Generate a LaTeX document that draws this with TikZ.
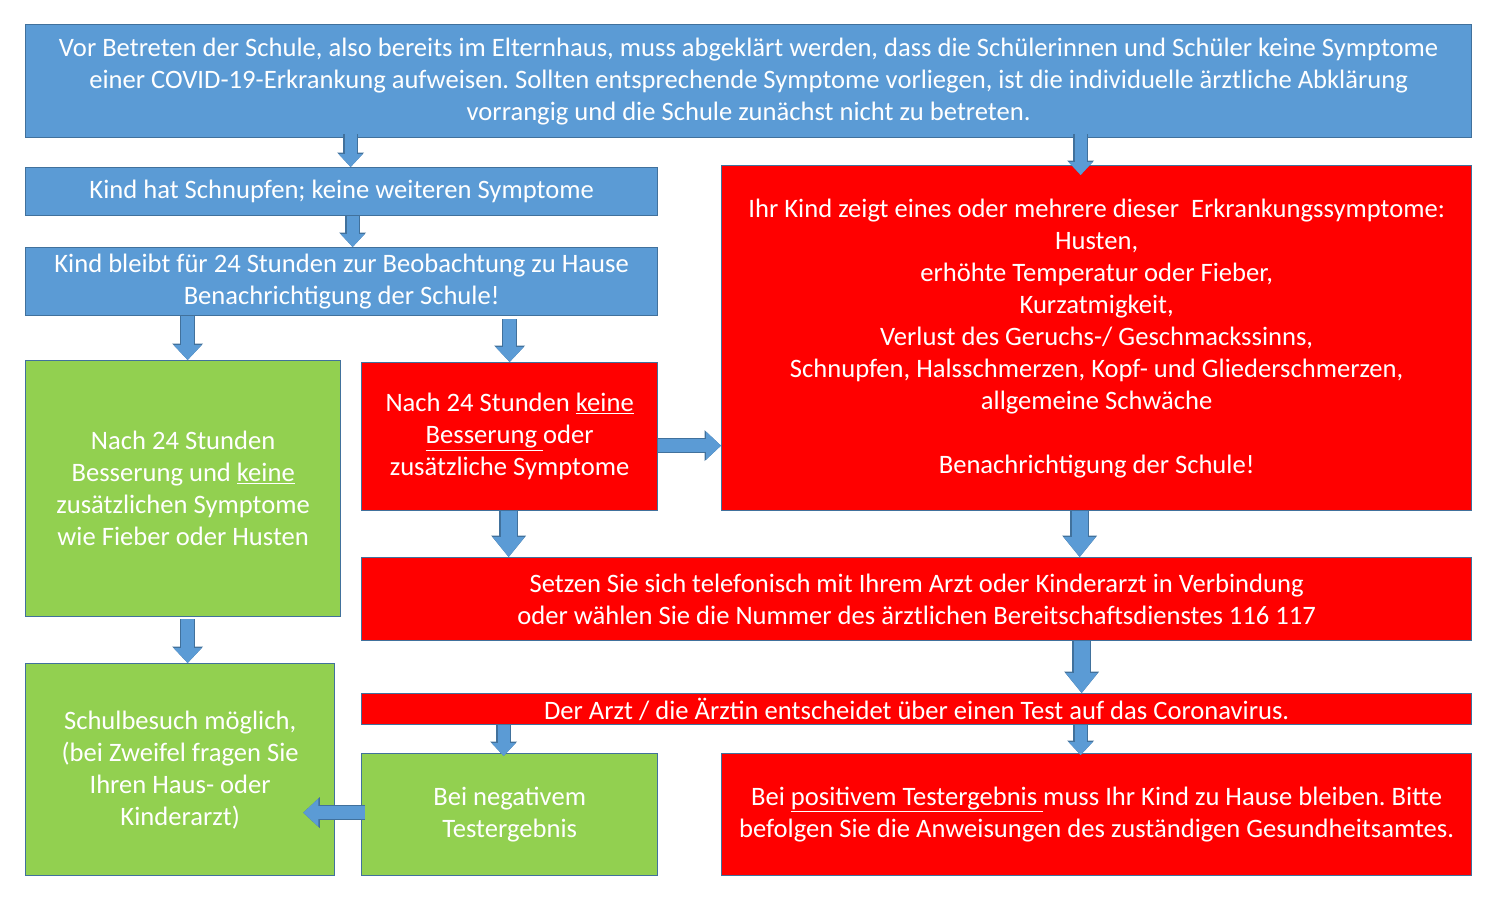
\documentclass[tikz,border=0pt]{standalone}
\usepackage{fontspec}
\setmainfont{Carlito}
\usetikzlibrary{arrows.meta}
\definecolor{ablue}{HTML}{5B9BD5}
\definecolor{ared}{HTML}{FF0000}
\definecolor{agreen}{HTML}{92D050}
\definecolor{edge}{HTML}{41719C}
\newcommand{\uln}[1]{\underline{#1}}
\frenchspacing
\begin{document}
\begin{tikzpicture}[x=1pt, y=1pt,
	box/.style={draw=edge, line width=1.3pt, text=white, align=center, inner sep=0pt, anchor=north west, font=\fontsize{26.6}{32}\selectfont},
	bluebox/.style={box, fill=ablue},
	redbox/.style={box, fill=ared},
	greenbox/.style={box, fill=agreen},
	fatarrow/.style={line width=13pt, draw=ablue, -{Triangle[width=28pt,length=15pt,line width=0pt]},
		preaction={draw=edge, line width=15.4pt, -{Triangle[width=31pt,length=16.5pt,line width=0pt]}}},
	smallarrow/.style={line width=12pt, draw=ablue, -{Triangle[width=24pt,length=13pt,line width=0pt]},
		preaction={draw=edge, line width=14.4pt, -{Triangle[width=27pt,length=14.5pt,line width=0pt]}}},
	bigarrow/.style={line width=16pt, draw=ablue, -{Triangle[width=32pt,length=20pt,line width=0pt]},
		preaction={draw=edge, line width=18.4pt, -{Triangle[width=35pt,length=21.5pt,line width=0pt]}}}]
	\useasboundingbox (0, 0) rectangle (1500, -899);
	% boxes
	\node (top) at (25, -24)[bluebox, minimum width=1446pt, minimum height=113pt] {Vor Betreten der Schule, also bereits im Elternhaus, muss abgeklärt werden, dass die Schülerinnen und Schüler keine Symptome\\einer COVID-19-Erkrankung aufweisen. Sollten entsprechende Symptome vorliegen, ist die individuelle ärztliche Abklärung\\vorrangig und die Schule zunächst nicht zu betreten.};
	\node (kind) at (25, -167)[bluebox, minimum width=632pt, minimum height=48pt] {Kind hat Schnupfen; keine weiteren Symptome};
	\node (bleibt) at (25, -247)[bluebox, minimum width=632pt, minimum height=68pt] {Kind bleibt für 24 Stunden zur Beobachtung zu Hause\\Benachrichtigung der Schule!};
	\node (sym) at (721, -165)[redbox, minimum width=750pt, minimum height=345pt] {Ihr Kind zeigt eines oder mehrere dieser~ Erkrankungssymptome:\\Husten,\\erhöhte Temperatur oder Fieber,\\Kurzatmigkeit,\\Verlust des Geruchs-/ Geschmackssinns,\\Schnupfen, Halsschmerzen, Kopf- und Gliederschmerzen,\\allgemeine Schwäche\\[32pt]Benachrichtigung der Schule!};
	\node (gut) at (25, -360)[greenbox, minimum width=315pt, minimum height=256pt] {Nach 24 Stunden\\Besserung und \uln{keine}\\zusätzlichen Symptome\\wie Fieber oder Husten};
	\node (nach) at (361, -362)[redbox, minimum width=296pt, minimum height=148pt] {Nach 24 Stunden \uln{keine}\\\uln{Besserung\ }oder\\zusätzliche Symptome};
	\node (setzen) at (361, -557)[redbox, minimum width=1110pt, minimum height=83pt] {Setzen Sie sich telefonisch mit Ihrem Arzt oder Kinderarzt in Verbindung\\oder wählen Sie die Nummer des ärztlichen Bereitschaftsdienstes 116 117};
	\node (schul) at (25, -663)[greenbox, minimum width=309pt, minimum height=212pt] {Schulbesuch möglich,\\(bei Zweifel fragen Sie\\Ihren Haus- oder\\Kinderarzt)};
	\node (arzt) at (361, -693)[redbox, minimum width=1110pt, minimum height=31pt] {Der Arzt / die Ärztin entscheidet über einen Test auf das Coronavirus.};
	\node (neg) at (361, -753)[greenbox, minimum width=296pt, minimum height=122pt] {Bei negativem\\Testergebnis};
	\node (pos) at (721, -753)[redbox, minimum width=750pt, minimum height=122pt] {Bei \uln{positivem Testergebnis\ }muss Ihr Kind zu Hause bleiben. Bitte\\befolgen Sie die Anweisungen des zuständigen Gesundheitsamtes.};
	% arrows
	\draw[smallarrow] ([xshift=9pt, yshift=4pt]top.south -| kind.north) -- ([xshift=9pt]kind.north);
	\draw[smallarrow] ([xshift=-16pt, yshift=4pt]top.south -| sym.north) -- ([xshift=-16pt, yshift=-10pt]sym.north);
	\draw[smallarrow] ([xshift=11pt]kind.south) -- ([xshift=11pt]bleibt.north);
	\draw[fatarrow] ([xshift=4.5pt]bleibt.south -| gut.north) -- ([xshift=4.5pt]gut.north);
	\draw[fatarrow] ([yshift=-3pt]bleibt.south -| nach.north) -- (nach.north);
	\draw[fatarrow] ([yshift=-9pt]nach.east) -- ([yshift=-9pt]nach.east -| sym.west);
	\draw[bigarrow] ([xshift=-1pt]nach.south) -- ([xshift=-1pt]nach.south |- setzen.north);
	\draw[bigarrow] ([xshift=-17pt]sym.south) -- ([xshift=-17pt]sym.south |- setzen.north);
	\draw[fatarrow] ([xshift=4.5pt, yshift=-2pt]gut.south) -- ([xshift=4.5pt]gut.south |- schul.north);
	\draw[bigarrow] ([xshift=-15pt]setzen.south -| sym.south) -- ([xshift=-15pt]arzt.north -| sym.south);
	\draw[smallarrow] ([xshift=-6pt]arzt.south -| neg.north) -- ([xshift=-6pt, yshift=-3pt]neg.north);
	\draw[smallarrow] ([xshift=-16pt]arzt.south -| pos.north) -- ([xshift=-16pt, yshift=-2pt]pos.north);
	\draw[fatarrow] ([xshift=4pt, yshift=2pt]neg.west) -- ([xshift=-32pt, yshift=2pt]neg.west -| schul.east);
\end{tikzpicture}
\end{document}
